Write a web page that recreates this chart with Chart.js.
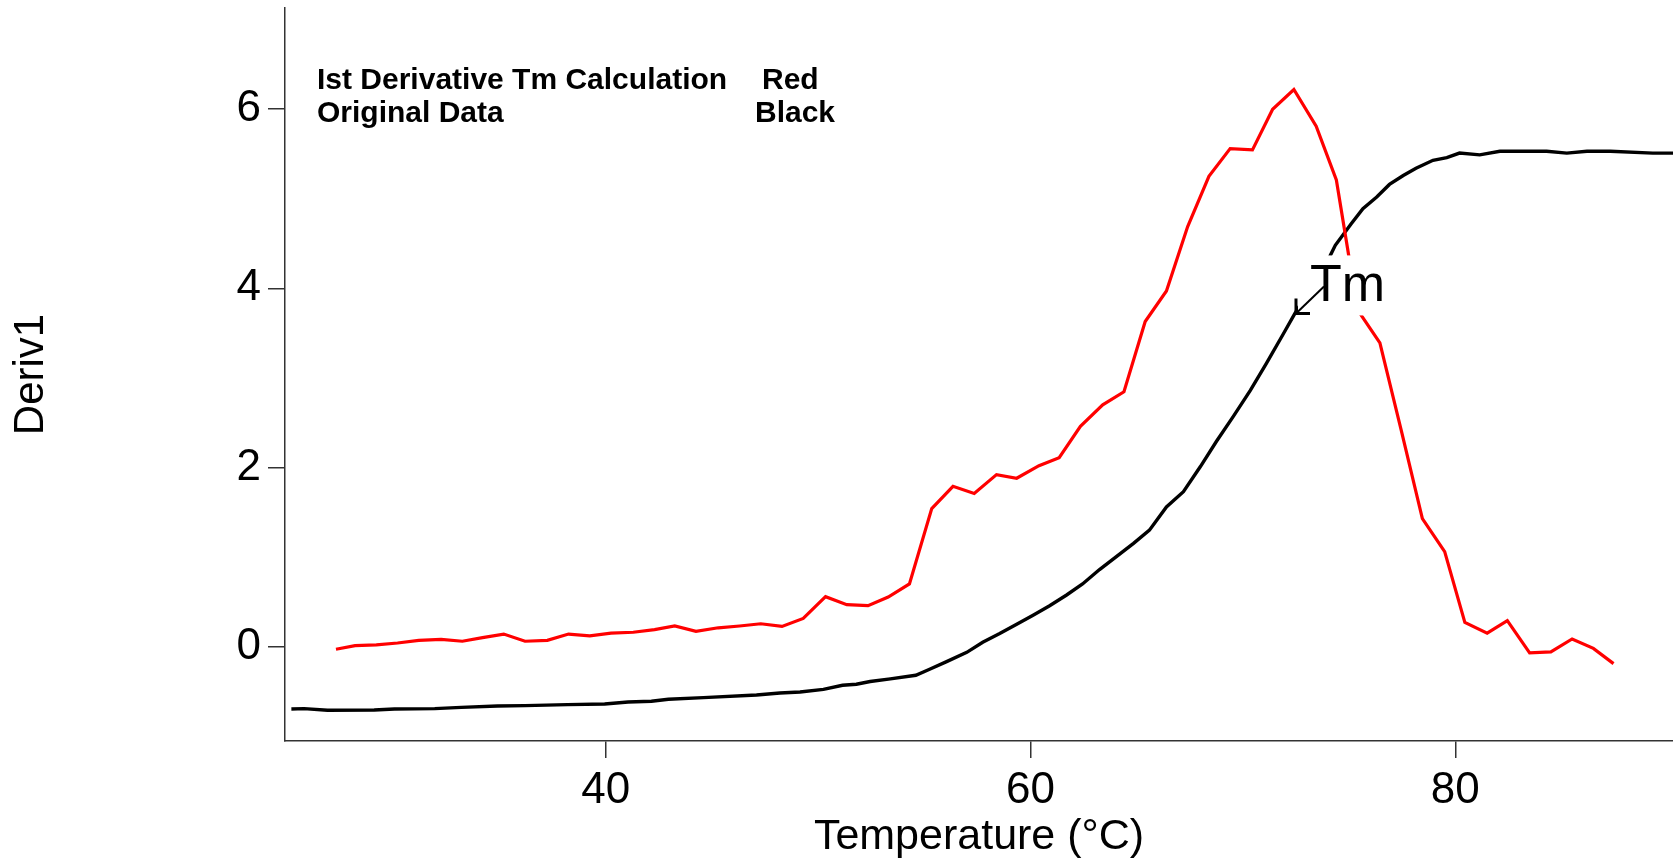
<!DOCTYPE html>
<html>
<head>
<meta charset="utf-8">
<title>Deriv1 vs Temperature</title>
<script src="https://cdn.jsdelivr.net/npm/chart.js@4.4.1/dist/chart.umd.min.js"></script>
<style>
    html, body { margin: 0; padding: 0; background: #fff; }
    #chart { display: block; }
</style>
</head>
<body>
<canvas id="chart" width="1673" height="864"></canvas>
<script>
// First derivative (red) sampled about once per degree
const derivTemps = [27.3, 28.2, 29.2, 30.2, 31.2, 32.25, 33.25, 34.2, 35.2, 36.2,
    37.25, 38.25, 39.25, 40.25, 41.3, 42.3, 43.25, 44.25, 45.3, 46.3,
    47.3, 48.3, 49.3, 50.35, 51.35, 52.35, 53.3, 54.3, 55.35, 56.35,
    57.35, 58.4, 59.35, 60.4, 61.35, 62.35, 63.4, 64.4, 65.4, 66.4,
    67.4, 68.4, 69.4, 70.45, 71.4, 72.4, 73.45, 74.4, 75.4, 76.45,
    77.45, 78.45, 79.5, 80.45, 81.5, 82.45, 83.5, 84.5, 85.5, 86.5, 87.45];
const derivValues = [-0.03, 0.01, 0.02, 0.04, 0.07, 0.08, 0.06, 0.10, 0.14, 0.06,
    0.07, 0.14, 0.12, 0.15, 0.16, 0.19, 0.23, 0.17, 0.21, 0.23,
    0.255, 0.225, 0.315, 0.557, 0.468, 0.457, 0.553, 0.70, 1.54, 1.79,
    1.71, 1.92, 1.88, 2.02, 2.11, 2.46, 2.70, 2.845, 3.63, 3.97,
    4.69, 5.25, 5.56, 5.545, 6.00, 6.22, 5.81, 5.21, 3.76, 3.39,
    2.42, 1.43, 1.06, 0.27, 0.15, 0.29, -0.07, -0.06, 0.085, -0.02, -0.19];

// Original melt curve (black)
const origTemps = [25.2, 25.8, 26.9, 29.1, 30.05, 31.95, 33.2, 34.9, 36.2, 38.2,
    39.95, 41.05, 42.15, 42.95, 44.6, 47.1, 48.2, 49.15, 50.25, 51.15,
    51.8, 52.45, 53.4, 54.6, 55.25, 56.05, 57.0, 57.75, 58.55, 59.35,
    60.1, 60.9, 61.7, 62.45, 63.25, 64.85, 65.6, 66.4, 67.2, 68.0,
    68.75, 69.55, 70.35, 71.1, 71.9, 72.45, 74.1, 74.35, 75.1, 75.65,
    76.3, 76.9, 77.55, 78.15, 78.95, 79.6, 80.2, 81.15, 82.1, 84.3,
    85.25, 86.2, 87.3, 89.3, 90.25];
const origValues = [-0.696, -0.693, -0.711, -0.708, -0.696, -0.693, -0.678, -0.663, -0.659, -0.648,
    -0.641, -0.618, -0.61, -0.588, -0.57, -0.54, -0.518, -0.507, -0.477, -0.432,
    -0.42, -0.39, -0.36, -0.32, -0.253, -0.168, -0.064, 0.048, 0.145, 0.25,
    0.348, 0.456, 0.576, 0.699, 0.86, 1.153, 1.30, 1.56, 1.73, 2.01,
    2.29, 2.57, 2.86, 3.16, 3.49, 3.72, 4.36, 4.48, 4.72, 4.89,
    5.02, 5.16, 5.26, 5.34, 5.43, 5.46, 5.51, 5.49, 5.53, 5.53,
    5.51, 5.53, 5.53, 5.51, 5.51];

const xTicks = [40, 60, 80];
const yTicks = [0, 2, 4, 6];
const tmPoint = [72.5, 3.72];

const FONT = '"Liberation Sans", Arial, Helvetica, sans-serif';

// Tm label with arrow pointing at the melt curve
const tmMarker = {
    id: 'tmMarker',
    afterDatasetsDraw(chart) {
        const { ctx, scales: { x, y } } = chart;
        const px = x.getPixelForValue(tmPoint[0]);
        const py = y.getPixelForValue(tmPoint[1]);
        ctx.save();
        ctx.fillStyle = '#fff';
        ctx.fillRect(px + 2, py - 58, 88, 60);
        ctx.strokeStyle = '#000';
        ctx.lineWidth = 2;
        ctx.beginPath();
        ctx.moveTo(px + 28, py - 27);
        ctx.lineTo(px, py);
        ctx.stroke();
        ctx.lineWidth = 3;
        ctx.beginPath();
        ctx.moveTo(px, py - 15);
        ctx.lineTo(px, py);
        ctx.lineTo(px + 14, py);
        ctx.stroke();
        ctx.fillStyle = '#000';
        ctx.font = '52px ' + FONT;
        ctx.textBaseline = 'alphabetic';
        ctx.fillText('Tm', px + 14, py - 12);
        ctx.restore();
    }
};

// Text key in the top-left corner
const textKey = {
    id: 'textKey',
    afterDraw(chart) {
        const ctx = chart.ctx;
        ctx.save();
        ctx.fillStyle = '#000';
        ctx.font = 'bold 30px ' + FONT;
        ctx.textBaseline = 'alphabetic';
        ctx.fillText('Ist Derivative Tm Calculation', 317, 89);
        ctx.fillText('Red', 762, 89);
        ctx.fillText('Original Data', 317, 122);
        ctx.fillText('Black', 755, 122);
        ctx.restore();
    }
};

new Chart(document.getElementById('chart'), {
    type: 'line',
    data: {
        datasets: [
            {
                label: 'Ist Derivative Tm Calculation',
                data: derivTemps.map((t, i) => ({ x: t, y: derivValues[i] })),
                borderColor: '#ff0000',
                borderWidth: 3.2
            },
            {
                label: 'Original Data',
                data: origTemps.map((t, i) => ({ x: t, y: origValues[i] })),
                borderColor: '#000000',
                borderWidth: 3.4
            }
        ]
    },
    options: {
        responsive: false,
        animation: false,
        layout: { padding: { top: 8, right: 0, left: 0, bottom: 0 } },
        elements: {
            point: { radius: 0 },
            line: { tension: 0, fill: false }
        },
        plugins: {
            legend: { display: false },
            tooltip: { enabled: false }
        },
        scales: {
            x: {
                type: 'linear',
                min: 24.9,
                max: 90.25,
                afterBuildTicks: s => { s.ticks = xTicks.map(v => ({ value: v })); },
                afterFit: s => {
                    s.height = 123;
                    s.paddingLeft = 0;
                    s.paddingRight = 0;
                },
                grid: { drawOnChartArea: false, tickLength: 17, color: '#333', lineWidth: 1.5 },
                border: { color: '#333', width: 1.5 },
                ticks: { color: '#000', padding: 6, font: { family: FONT, size: 44 } },
                title: {
                    display: true,
                    text: 'Temperature (°C)',
                    color: '#000',
                    padding: { top: 0, bottom: 1 },
                    font: { family: FONT, size: 43, lineHeight: 1.2 }
                }
            },
            y: {
                min: -1.054,
                max: 7.13,
                afterBuildTicks: s => { s.ticks = yTicks.map(v => ({ value: v })); },
                afterFit: s => {
                    s.width = 285;
                    s.paddingTop = 0;
                    s.paddingBottom = 0;
                },
                grid: { drawOnChartArea: false, tickLength: 17, color: '#333', lineWidth: 1.5 },
                border: { color: '#333', width: 1.5 },
                ticks: { color: '#000', padding: 7, font: { family: FONT, size: 44 } },
                title: {
                    display: true,
                    text: 'Deriv1',
                    color: '#000',
                    padding: { top: 6, bottom: 0 },
                    font: { family: FONT, size: 42, lineHeight: 1.2 }
                }
            }
        }
    },
    plugins: [tmMarker, textKey]
});
</script>
</body>
</html>
